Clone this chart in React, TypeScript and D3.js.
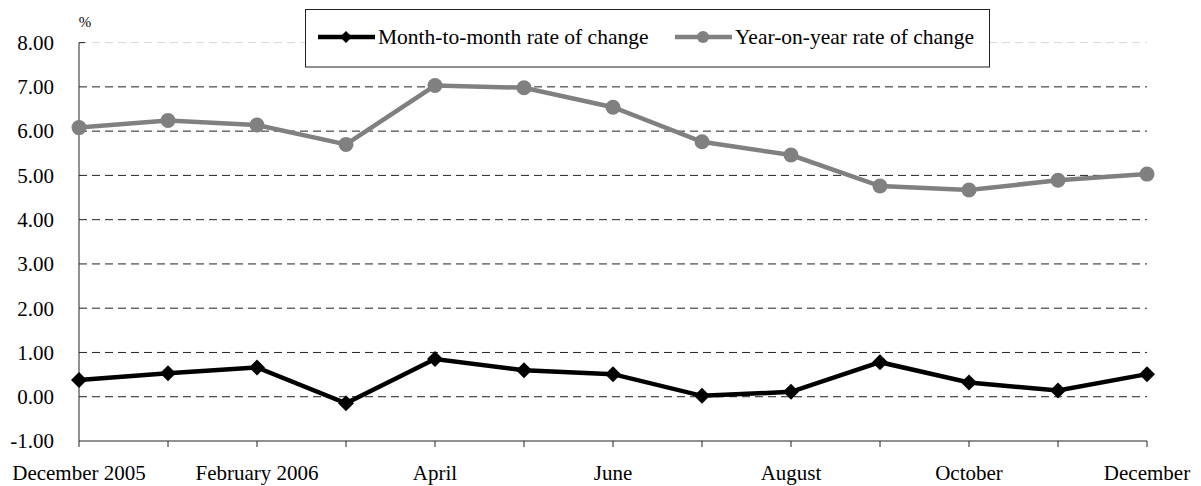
import React from "react";
import * as d3 from "d3";

const months = [
  "Dec05", "Jan06", "Feb06", "Mar06", "Apr06", "May06", "Jun06",
  "Jul06", "Aug06", "Sep06", "Oct06", "Nov06", "Dec06",
];
const monthLabels = [
  "December 2005", "", "February 2006", "", "April", "", "June",
  "", "August", "", "October", "", "December",
];
const monthToMonth = [0.38, 0.53, 0.66, -0.15, 0.85, 0.6, 0.51, 0.02, 0.11, 0.78, 0.32, 0.14, 0.51];
const yearOnYear = [6.08, 6.24, 6.14, 5.7, 7.03, 6.98, 6.54, 5.76, 5.46, 4.76, 4.67, 4.89, 5.03];
const yTicks = [-1, 0, 1, 2, 3, 4, 5, 6, 7, 8];

const W = 1201;
const H = 486;
const left = 79;
const right = 1147;
const top = 42.6;
const bottom = 441;
const font = "Liberation Serif";

export default function App() {
  const x = d3.scalePoint<string>().domain(months).range([left, right]);
  const y = d3.scaleLinear().domain([-1, 8]).range([bottom, top]);

  const line = d3
    .line<number>()
    .x((_, i) => x(months[i]) as number)
    .y((v) => y(v));

  const diamond = (cx: number, cy: number, r: number) =>
    `M${cx},${cy - r}L${cx + r},${cy}L${cx},${cy + r}L${cx - r},${cy}Z`;

  const txt = { fontFamily: font };

  return (
    <svg
      width={W}
      height={H}
      style={{ position: "absolute", left: 0, top: 0, background: "#fff" }}
    >
      {/* grid */}
      {yTicks.filter((t) => t > -1).map((t) => (
        <line
          key={t}
          x1={left}
          x2={right}
          y1={y(t)}
          y2={y(t)}
          stroke={t === 8 ? "#d8d8d8" : "#222"}
          strokeWidth={1}
          strokeDasharray="8,5"
        />
      ))}
      <line x1={left} x2={left + 6} y1={y(8)} y2={y(8)} stroke="#222" />
      {/* axes */}
      <line x1={left} x2={left} y1={y(8)} y2={y(-1)} stroke="#222" />
      <line x1={left} x2={right} y1={y(-1)} y2={y(-1)} stroke="#222" />
      {months.map((m) => (
        <line key={m} x1={x(m)} x2={x(m)} y1={bottom} y2={bottom + 6} stroke="#222" />
      ))}
      {yTicks.map((t) => (
        <text key={t} style={txt} x={54} y={y(t)} dy="0.35em" textAnchor="end" fontSize={21} fill="#000">
          {t.toFixed(2)}
        </text>
      ))}
      <text style={txt} x={85} y={27} textAnchor="middle" fontSize={15} fill="#000">%</text>
      {months.map((m, i) => (
        <text key={m} style={txt} x={x(m)} y={480} textAnchor="middle" fontSize={21} fill="#000">
          {monthLabels[i]}
        </text>
      ))}

      {/* series */}
      <path d={line(yearOnYear) || ""} fill="none" stroke="#808080" strokeWidth={4.5} />
      {yearOnYear.map((v, i) => (
        <circle key={i} cx={x(months[i])} cy={y(v)} r={7.5} fill="#808080" />
      ))}
      <path d={line(monthToMonth) || ""} fill="none" stroke="#000" strokeWidth={4.5} />
      {monthToMonth.map((v, i) => (
        <path key={i} d={diamond(x(months[i]) as number, y(v), 8)} fill="#000" />
      ))}

      {/* legend */}
      <rect x={305.5} y={9.5} width={684} height={57.5} fill="#fff" stroke="#222" />
      <line x1={318} x2={375} y1={37} y2={37} stroke="#000" strokeWidth={4.5} />
      <path d={diamond(346, 37, 6)} fill="#000" />
      <text style={txt} x={378} y={44} fontSize={21.5} fill="#000">Month-to-month rate of change</text>
      <line x1={675} x2={732} y1={37} y2={37} stroke="#808080" strokeWidth={4.5} />
      <circle cx={703} cy={37} r={6} fill="#808080" />
      <text style={txt} x={735} y={44} fontSize={21.5} fill="#000">Year-on-year rate of change</text>
    </svg>
  );
}
